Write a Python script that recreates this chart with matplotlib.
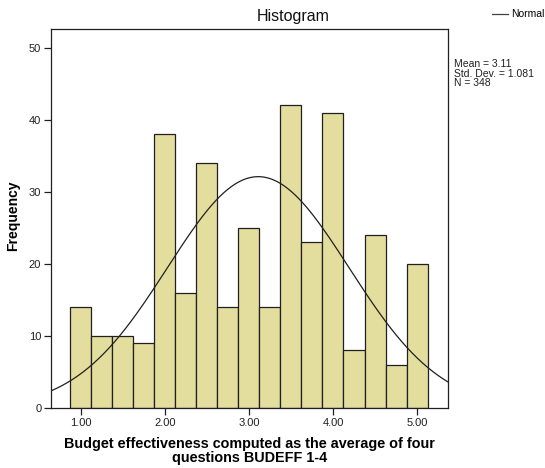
import numpy as np
import matplotlib.pyplot as plt
from matplotlib.lines import Line2D

plt.rcParams['font.family'] = ['Liberation Sans', 'DejaVu Sans']

# bin edges (width 0.25) and frequencies for BUDEFF average scores
bin_left = [0.875, 1.125, 1.375, 1.625, 1.875, 2.125, 2.375, 2.625, 2.875,
            3.125, 3.375, 3.625, 3.875, 4.125, 4.375, 4.625, 4.875]
counts = [14, 10, 10, 9, 38, 16, 34, 14, 25, 14, 42, 23, 41, 8, 24, 6, 20]
bin_width = 0.25
mean = 3.11
std = 1.081
n = 348

W, H = 545, 468
fig = plt.figure(figsize=(W / 100, H / 100), dpi=100)
ax = fig.add_axes([51 / W, 1 - 408 / H, 397 / W, 379 / H])

ax.bar(bin_left, counts, width=bin_width, align='edge',
       color='#E3DD9E', edgecolor='#202020', linewidth=0.9)

x_lo, x_hi = 0.643, 5.369
xs = np.linspace(x_lo, x_hi, 300)
pdf = n * bin_width / (std * np.sqrt(2 * np.pi)) * np.exp(-0.5 * ((xs - mean) / std) ** 2)
ax.plot(xs, pdf, color='#202020', linewidth=0.9)

ax.set_xlim(x_lo, x_hi)
ax.set_ylim(0, 52.6)
ax.set_xticks([1, 2, 3, 4, 5])
ax.set_xticklabels(['1.00', '2.00', '3.00', '4.00', '5.00'])
ax.set_yticks([0, 10, 20, 30, 40, 50])
ax.tick_params(axis='both', direction='out', length=5, width=0.9,
               labelsize=8, colors='#202020', pad=2)
ax.tick_params(top=False, right=False)
for sp in ax.spines.values():
    sp.set_color('#202020')
    sp.set_linewidth(0.9)

fig.text(293 / W, 1 - 16 / H, 'Histogram', fontsize=11.5,
         ha='center', va='center', color='#101010')
fig.text(13.5 / W, 1 - 216 / H, 'Frequency', fontsize=10, fontweight='bold',
         rotation=90, ha='center', va='center')
fig.text(249.5 / W, 1 - 451 / H,
         'Budget effectiveness computed as the average of four\nquestions BUDEFF 1-4',
         fontsize=10.4, fontweight='bold', ha='center', va='center',
         linespacing=1.0, multialignment='center')

fig.text(454 / W, 0.874, f'Mean = {mean:.2f}\nStd. Dev. = {std:.3f}\nN = {n}',
         fontsize=7.5, va='top', ha='left', linespacing=0.95, color='#202020')

handle = Line2D([], [], color='#404040', linewidth=0.9)
fig.legend([handle], ['Normal'], loc='upper right', bbox_to_anchor=(1.017, 1.0),
           frameon=False, fontsize=7.5, handlelength=1.6, handletextpad=0.3)

fig.savefig('out.png', dpi=100)
